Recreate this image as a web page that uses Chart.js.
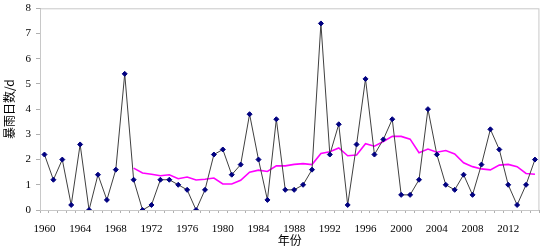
<!DOCTYPE html>
<html lang="zh">
<head>
    <meta charset="UTF-8">
    <title>暴雨日数</title>
    <style>
        html, body { margin: 0; padding: 0; background: #fff; }
        #chartBox { width: 545px; height: 250px; }
    </style>
    <script src="https://cdn.jsdelivr.net/npm/chart.js"></script>
</head>
<body>
    <div id="chartBox"><canvas id="rainChart"></canvas></div>

    <script>
        // years 1960-2015
        const years = [];
        for (let y = 1960; y <= 2015; y++) years.push(String(y));

        const rainDays = [
            2.2, 1.2, 2.0, 0.2, 2.6, 0.0, 1.4, 0.4, 1.6, 5.4,
            1.2, 0.0, 0.2, 1.2, 1.2, 1.0, 0.8, 0.0, 0.8, 2.2,
            2.4, 1.4, 1.8, 3.8, 2.0, 0.4, 3.6, 0.8, 0.8, 1.0,
            1.6, 7.4, 2.2, 3.4, 0.2, 2.6, 5.2, 2.2, 2.8, 3.6,
            0.6, 0.6, 1.2, 4.0, 2.2, 1.0, 0.8, 1.4, 0.6, 1.8,
            3.2, 2.4, 1.0, 0.2, 1.0, 2.0
        ];

        // magenta smoothed line, starts 1970
        const movingAvg = [
            null, null, null, null, null, null, null, null, null, null,
            1.66, 1.47, 1.42, 1.36, 1.40, 1.24, 1.31, 1.19, 1.22, 1.27,
            1.03, 1.03, 1.18, 1.50, 1.58, 1.53, 1.75, 1.75, 1.81, 1.84,
            1.80, 2.24, 2.31, 2.46, 2.15, 2.18, 2.63, 2.53, 2.72, 2.92,
            2.92, 2.81, 2.27, 2.42, 2.29, 2.36, 2.22, 1.87, 1.72, 1.63,
            1.59, 1.78, 1.81, 1.72, 1.45, 1.42
        ];

        const yTicks = [0, 1, 2, 3, 4, 5, 6, 7, 8];

        const serif = "'Liberation Serif', 'DejaVu Serif', serif";
        const cjk = "'Noto Sans CJK SC', sans-serif";

        // light grey frame around the plot area
        const frame = {
            id: 'frame',
            beforeDatasetsDraw(chart) {
                const a = chart.chartArea, ctx = chart.ctx;
                ctx.save();
                ctx.strokeStyle = '#c8c8c8';
                ctx.lineWidth = 1;
                ctx.strokeRect(a.left + 0.5, a.top + 0.5, a.right - a.left - 1, a.bottom - a.top);
                ctx.restore();
            }
        };

        new Chart(document.getElementById('rainChart'), {
            type: 'line',
            data: {
                labels: years,
                datasets: [{
                    label: '暴雨日数',
                    data: rainDays,
                    borderColor: '#404040',
                    borderWidth: 1,
                    pointStyle: 'rectRot',
                    pointRadius: 2.5,
                    pointBackgroundColor: '#000080',
                    pointBorderColor: '#000080',
                    tension: 0,
                    order: 1
                }, {
                    label: '滑动平均',
                    data: movingAvg,
                    borderColor: '#ff00ff',
                    borderWidth: 1.6,
                    pointRadius: 0,
                    tension: 0,
                    order: 2
                }]
            },
            options: {
                responsive: true,
                maintainAspectRatio: false,
                animation: false,
                layout: { padding: { top: 0, right: 2, left: 0, bottom: 0 } },
                plugins: {
                    legend: { display: false },
                    tooltip: { enabled: false }
                },
                scales: {
                    x: {
                        type: 'category',
                        offset: true,
                        grid: {
                            offset: true,
                            drawOnChartArea: false,
                            tickLength: 3,
                            color: '#b0b0b0'
                        },
                        border: { color: '#a0a0a0' },
                        ticks: {
                            autoSkip: false,
                            maxRotation: 0,
                            padding: 10,
                            color: '#000',
                            font: { family: serif, size: 11 },
                            callback: function (val, idx) {
                                return idx % 4 === 0 ? years[idx] : '';
                            }
                        },
                        title: {
                            display: true,
                            text: '年份',
                            color: '#000',
                            font: { family: cjk, size: 12 },
                            padding: { top: 0, bottom: 2 }
                        },
                        afterFit: s => { s.height = 40; }
                    },
                    y: {
                        min: 0,
                        max: 8,
                        afterBuildTicks: s => { s.ticks = yTicks.map(v => ({ value: v })); },
                        grid: {
                            drawOnChartArea: false,
                            tickLength: 4,
                            color: '#b0b0b0'
                        },
                        border: { color: '#a0a0a0' },
                        ticks: {
                            padding: 5,
                            color: '#000',
                            font: { family: serif, size: 11, lineHeight: 0.6 }
                        },
                        title: {
                            display: true,
                            text: '暴雨日数/d',
                            color: '#000',
                            font: { family: cjk, size: 12 },
                            padding: { top: 2, bottom: 0 }
                        },
                        afterFit: s => { s.width = 40; }
                    }
                }
            },
            plugins: [frame]
        });
    </script>
</body>
</html>
